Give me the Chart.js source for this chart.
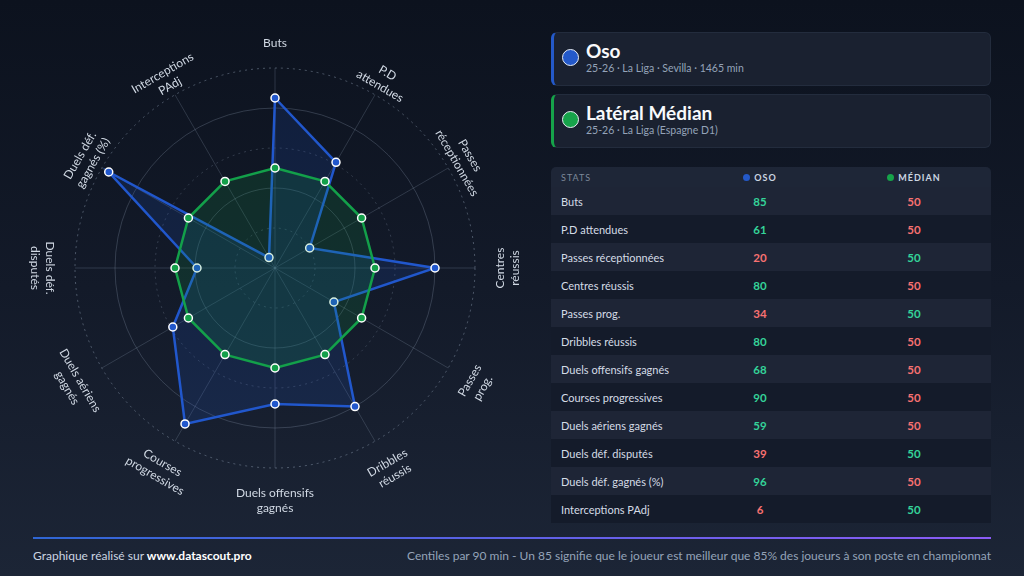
<!DOCTYPE html>
<html><head><meta charset="utf-8">
<script src="https://cdn.jsdelivr.net/npm/chart.js@4.4.1/dist/chart.umd.min.js"></script>
<style>
html,body{margin:0;padding:0;}
body{width:1024px;height:576px;overflow:hidden;position:relative;
  background:linear-gradient(180deg,#0c121e 0%,#131a29 50%,#1c2536 100%);
  font-family:Lato,'Noto Sans',sans-serif;color:#e2e8f0;}
#radarWrap{position:absolute;left:0;top:0;width:550px;height:536px;}
.card{position:absolute;left:551px;width:440px;height:54px;background:#1a2130;
  border:1px solid #232c3d;border-left:3px solid #2459c9;border-radius:6px;box-sizing:border-box;}
.card .dot{position:absolute;left:8px;top:16px;width:15px;height:15px;border-radius:50%;border:1.5px solid #e8edf4;}
.card .title{position:absolute;left:32px;top:7px;font-weight:700;font-size:19px;color:#f8fafc;line-height:22px;}
.card .sub{position:absolute;left:32px;top:28px;font-size:10.5px;color:#94a3b8;line-height:14px;}
#tbl{position:absolute;left:551px;top:167px;width:440px;border-collapse:collapse;font-size:11px;}
#tbl th{height:20px;padding:0;font-size:9px;letter-spacing:1px;font-weight:700;color:#cbd5e1;background:#1e2637;}
#tbl th:first-child{text-align:left;padding-left:10px;color:#7d8899;font-weight:400;border-top-left-radius:5px;}
#tbl th:last-child{border-top-right-radius:5px;}
#tbl td{height:28px;padding:0;text-align:center;font-weight:700;font-size:11.5px;}
#tbl td:first-child{text-align:left;padding-left:10px;font-weight:400;color:#d5dce6;font-size:11px;}
#tbl tr.l td{background:#1e2536;}
#tbl tr.d td{background:#141b2a;}
.hd{display:inline-block;width:7px;height:7px;border-radius:50%;margin-right:4px;vertical-align:0px;}
#fline{position:absolute;left:33px;top:537px;width:958px;height:2px;background:linear-gradient(90deg,#2f66d4,#8b5cf6);}
#fl{position:absolute;left:33px;top:548px;font-size:12px;color:#cbd5e1;}
#fl b{color:#fff;}
#fr{position:absolute;right:33px;top:548px;font-size:12px;color:#94a3b8;}
</style></head>
<body>
<div id="radarWrap"><canvas id="c"></canvas></div>
<div class="card" style="top:32px;border-left-color:#2459c9"><div class="dot" style="background:#2459c9"></div><div class="title">Oso</div><div class="sub">25-26 · La Liga · Sevilla · 1465 min</div></div>
<div class="card" style="top:94px;border-left-color:#16a34a"><div class="dot" style="background:#16a34a"></div><div class="title">Latéral Médian</div><div class="sub">25-26 · La Liga (Espagne D1)</div></div>
<table id="tbl"><colgroup><col style="width:132px"><col style="width:154px"><col style="width:154px"></colgroup><thead><tr><th>STATS</th><th><span class="hd" style="background:#2459c9"></span>OSO</th><th><span class="hd" style="background:#16a34a"></span>MÉDIAN</th></tr></thead><tbody id="tb"></tbody></table>
<div id="fline"></div>
<div id="fl">Graphique réalisé sur <b>www.datascout.pro</b></div>
<div id="fr">Centiles par 90 min - Un 85 signifie que le joueur est meilleur que 85% des joueurs à son poste en championnat</div>
<script>
const categories = [
  ["Buts"], ["P.D","attendues"], ["Passes","réceptionnées"], ["Centres","réussis"],
  ["Passes","prog."], ["Dribbles","réussis"], ["Duels offensifs","gagnés"], ["Courses","progressives"],
  ["Duels aériens","gagnés"], ["Duels déf.","disputés"], ["Duels déf.","gagnés (%)"], ["Interceptions","PAdj"]
];
const osoValues = [85, 61, 20, 80, 34, 80, 68, 90, 59, 39, 96, 6];
const medianValues = [50, 50, 50, 50, 50, 50, 50, 50, 50, 50, 50, 50];
const tickValues = [0, 20, 40, 60, 80, 100];

const GREEN_TXT = '#34d399', RED_TXT = '#f87171';
const tb = document.getElementById('tb');
categories.forEach((c, i) => {
  const tr = document.createElement('tr');
  tr.className = i % 2 === 0 ? 'l' : 'd';
  const o = osoValues[i], m = medianValues[i];
  tr.innerHTML = '<td>' + c.join(' ') + '</td><td style="color:' + (o >= m ? GREEN_TXT : RED_TXT) + '">' + o +
    '</td><td style="color:' + (m > o ? GREEN_TXT : RED_TXT) + '">' + m + '</td>';
  tb.appendChild(tr);
});

const rotLabels = {
  id: 'rotLabels',
  afterDraw(chart) {
    const s = chart.scales.r, ctx = chart.ctx, n = chart.data.labels.length;
    ctx.save();
    ctx.font = '12px Lato, "Noto Sans", sans-serif';
    ctx.fillStyle = '#d0d8e3';
    ctx.textAlign = 'center';
    ctx.textBaseline = 'middle';
    chart.data.labels.forEach((lab, i) => {
      const p = s.getPointPosition(i, 225);
      const deg = i * 360 / n;
      let rot = deg;
      if (deg >= 90 && deg <= 270) rot = deg - 180; else if (deg > 270) rot = deg - 360;
      ctx.save();
      ctx.translate(p.x, p.y);
      ctx.rotate(rot * Math.PI / 180);
      lab.forEach((t, k) => ctx.fillText(t, 0, k * 15));
      ctx.restore();
    });
    ctx.restore();
  }
};

new Chart(document.getElementById('c'), {
  type: 'radar',
  data: {
    labels: categories,
    datasets: [
      { label: 'Oso', data: osoValues, order: 1,
        borderColor: '#2157cc', backgroundColor: 'rgba(33,87,204,0.16)', borderWidth: 2.5, fill: true,
        pointBackgroundColor: '#2157cc', pointBorderColor: '#ffffff', pointBorderWidth: 1.5, pointRadius: 4, tension: 0 },
      { label: 'Médian', data: medianValues, order: 0,
        borderColor: '#13a04a', backgroundColor: 'rgba(19,160,74,0.17)', borderWidth: 2.5, fill: true,
        pointBackgroundColor: '#13a04a', pointBorderColor: '#ffffff', pointBorderWidth: 1.5, pointRadius: 4, tension: 0 }
    ]
  },
  options: {
    responsive: true, maintainAspectRatio: false, animation: false,
    layout: { padding: { left: 75, right: 75, top: 68, bottom: 68 } },
    plugins: { legend: { display: false }, tooltip: { enabled: false } },
    scales: {
      r: {
        min: tickValues[0], max: tickValues[tickValues.length - 1],
        afterBuildTicks: (sc) => { sc.ticks = tickValues.map(v => ({ value: v })); },
        ticks: { display: false },
        grid: { circular: true, lineWidth: 1,
          color: (ctx) => ctx.index === 5 ? 'rgba(148,163,184,0.45)' : 'rgba(148,163,184,0.27)' },
        border: { dash: (ctx) => ctx.index % 2 === 1 ? [2, 4] : [] },
        angleLines: { color: 'rgba(148,163,184,0.24)', lineWidth: 1 },
        pointLabels: { display: false }
      }
    }
  },
  plugins: [rotLabels]
});
</script>
</body></html>
